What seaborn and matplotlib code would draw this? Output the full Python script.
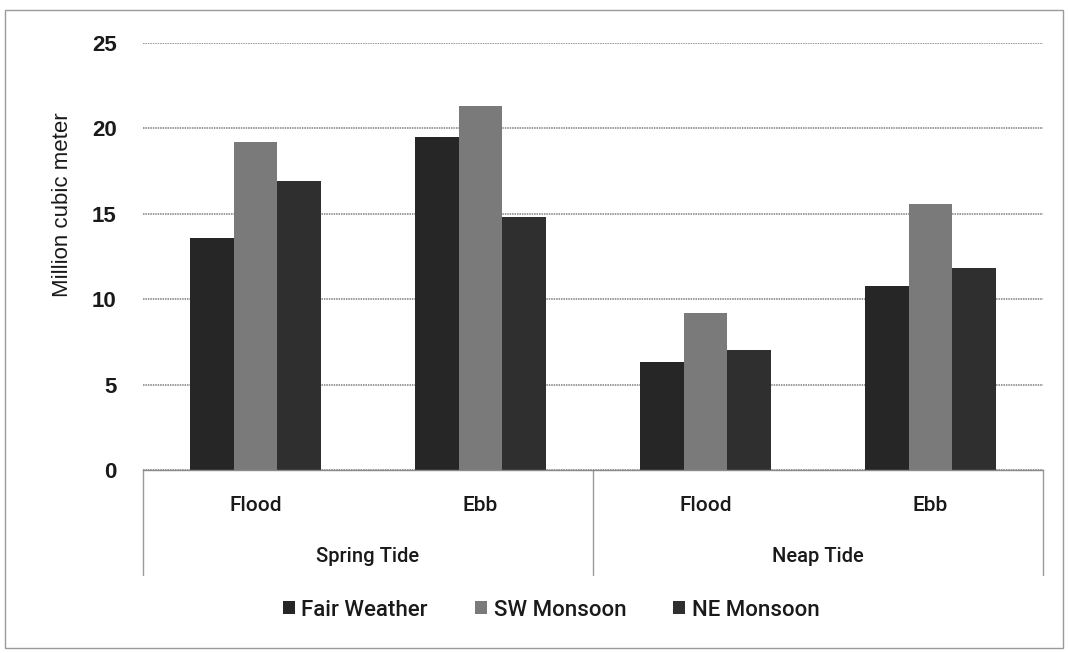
import matplotlib
matplotlib.use("Agg")
import matplotlib.pyplot as plt
import seaborn as sns
import pandas as pd
from matplotlib.patches import Rectangle

# Tidal prism volumes (million m³) by tide, phase and season
tides = ["Spring Tide", "Spring Tide", "Neap Tide", "Neap Tide"]
phases = ["Flood", "Ebb", "Flood", "Ebb"]
seasons = ["Fair Weather", "SW Monsoon", "NE Monsoon"]
fair_weather = [13.6, 19.5, 6.3, 10.8]
sw_monsoon = [19.2, 21.3, 9.2, 15.6]
ne_monsoon = [16.9, 14.8, 7.0, 11.8]
y_ticks = [0, 5, 10, 15, 20, 25]

keys = [f"{t}|{p}" for t, p in zip(tides, phases)]
rows = []
for season, vals in zip(seasons, [fair_weather, sw_monsoon, ne_monsoon]):
    for k, v in zip(keys, vals):
        rows.append({"key": k, "season": season, "value": v})
df = pd.DataFrame(rows)

sns.set_theme(style="white")
plt.rcParams["font.family"] = ["Roboto", "DejaVu Sans"]
TXT = "#1a1a1a"

W, H = 1069, 653
fig = plt.figure(figsize=(W / 100, H / 100), dpi=100)
x0, x1, y0, y1 = 143, 1043, 470, 43
ax = fig.add_axes([x0 / W, 1 - y0 / H, (x1 - x0) / W, (y0 - y1) / H])

palette = {"Fair Weather": "#262626", "SW Monsoon": "#7a7a7a", "NE Monsoon": "#2f2f2f"}
sns.barplot(data=df, x="key", y="value", hue="season", order=keys,
            hue_order=seasons, palette=palette, width=0.58, saturation=1,
            edgecolor="none", ax=ax, legend=True)

ax.set_ylim(0, 25)
ax.set_xlim(-0.5, 3.5)
ax.set_yticks(y_ticks)
ax.set_yticklabels([str(t) for t in y_ticks], family="Liberation Sans",
                   fontsize=16, fontweight="bold", color=TXT)
ax.tick_params(axis="y", length=0, pad=19)
ax.yaxis.grid(True, color="#7f7f7f", linewidth=1.1, linestyle=(0, (1, 0.6)))
ax.set_axisbelow(True)
for s in ["top", "right", "left"]:
    ax.spines[s].set_visible(False)
ax.spines["bottom"].set_color("#8a8a8a")
ax.spines["bottom"].set_linewidth(1.0)

ax.set_ylabel("Million cubic meter", fontsize=16, color=TXT,
              family="Liberation Sans")
ax.yaxis.set_label_coords(-0.078, (y0 - 205) / (y0 - y1))
ax.set_xlabel("")
ax.set_xticks(range(len(phases)))
ax.set_xticklabels(phases, fontsize=15, color=TXT, fontweight="medium")
ax.tick_params(axis="x", length=0, pad=19)

# Two-level category axis: group labels and separators
tr = ax.get_xaxis_transform()
bottom_frac = -(575 - y0) / (y0 - y1)
for xs in [-0.5, 1.5, 3.5]:
    ax.plot([xs, xs], [0, bottom_frac], transform=tr, color="#9a9a9a",
            linewidth=1.0, clip_on=False)
label_frac = -(556 - y0) / (y0 - y1)
for center, name in [(0.5, "Spring Tide"), (2.5, "Neap Tide")]:
    ax.text(center, label_frac, name, transform=tr, ha="center", va="center",
            fontsize=14.5, color=TXT, fontweight="medium")

handles, labels = ax.get_legend_handles_labels()
ax.legend_.remove()
fig.legend(handles, labels, loc="center", bbox_to_anchor=(551 / W, 1 - 610 / H),
           ncol=3, frameon=False, handlelength=0.55, handleheight=0.55,
           handletextpad=0.3, columnspacing=2.1, labelcolor=TXT,
           prop={"weight": "medium", "size": 16})

# Outer chart border
fig.patches.append(Rectangle((5 / W, 5 / H), 1 - 11 / W, 1 - 15 / H,
                             transform=fig.transFigure, fill=False,
                             edgecolor="#9a9a9a", linewidth=1.0))

fig.savefig("out.png", dpi=100, facecolor="white")
